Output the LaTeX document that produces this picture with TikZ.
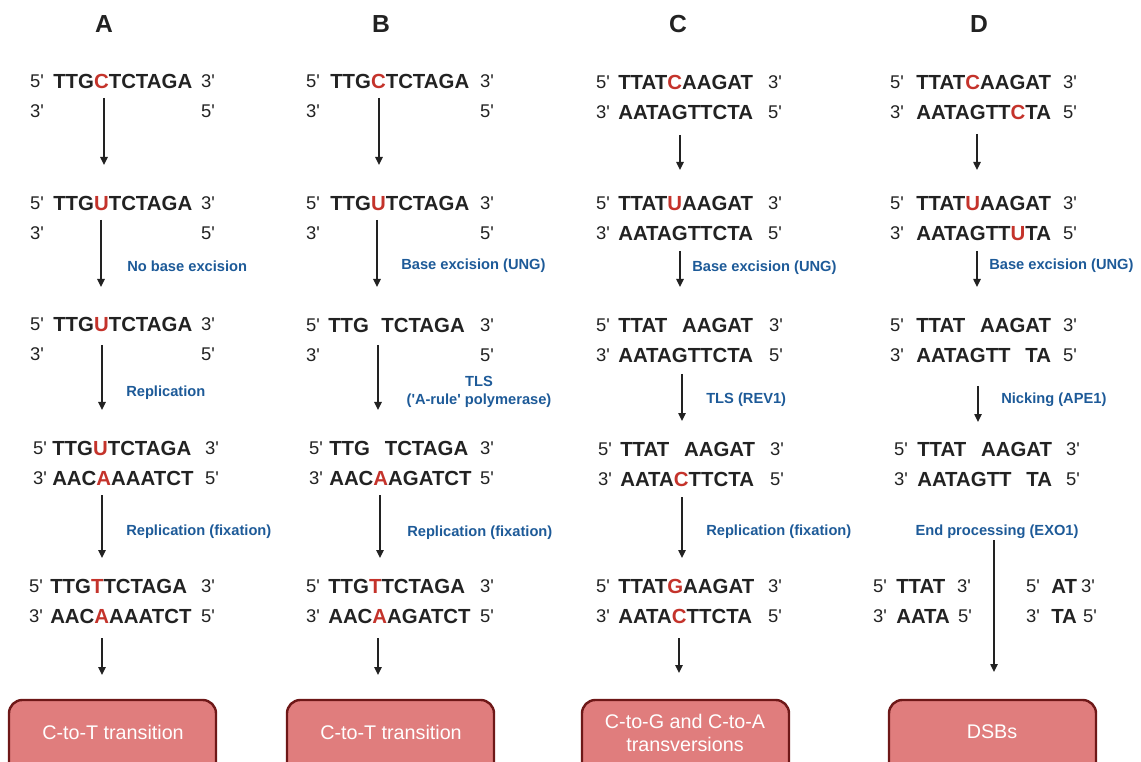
\documentclass[tikz,border=0pt]{standalone}
\usepackage{fontspec}
\setmainfont{Liberation Sans}
\usetikzlibrary{arrows.meta}
\definecolor{basered}{HTML}{C4332B}
\definecolor{stepblue}{HTML}{1D5A98}
\definecolor{inkgray}{HTML}{222222}
\definecolor{boxfill}{HTML}{E07D7D}
\definecolor{boxedge}{HTML}{6E1818}
\newcommand\hl[1]{\textcolor{basered}{#1}}
\newcommand\gap{\phantom{U}}
\newcommand\pr{\textquotesingle}
% one strand: name, y, x of left end, left end, x of sequence, sequence, x of right end, right end
\newcommand\strand[8]{%
  \node[endlbl] (#1l) at (#3,#2) {#4};
  \node[seq] (#1s) at (#5,#2) {#6};
  \node[endlbl] (#1r) at (#7,#2) {#8};}
\begin{document}
\begin{tikzpicture}[x=0.75pt,y=-0.75pt,
  endlbl/.style={inner sep=0pt,text=inkgray,font=\fontsize{13.8}{16}\selectfont},
  seq/.style={inner sep=0pt,anchor=west,text=inkgray,font=\fontsize{15.3}{18}\selectfont\bfseries},
  head/.style={inner sep=0pt,text=inkgray,font=\fontsize{18.5}{21}\selectfont\bfseries},
  steplbl/.style={inner sep=0pt,anchor=base west,text=stepblue,font=\fontsize{11}{14}\selectfont\bfseries},
  flow/.style={draw=inkgray,line width=1.1pt,-{Triangle[length=6pt,width=5.5pt]}},
  outcome/.style={draw=boxedge,fill=boxfill,line width=1.8pt,rounded corners=10pt},
  outtext/.style={inner sep=0pt,text=white,align=center,font=\fontsize{14.8}{17}\selectfont}]
\useasboundingbox (0,0) rectangle (1141,762);
\clip (0,0) rectangle (1141,762);

% column headers
\node[head] (hA) at (104,24) {A};
\node[head] (hB) at (381,24) {B};
\node[head] (hC) at (678,24) {C};
\node[head] (hD) at (979,24) {D};

% ---------------- column A ----------------
\strand{a1t}{81}{37}{5\pr}{53}{TTG\hl{C}TCTAGA}{208}{3\pr}
\node[endlbl] (a1bl) at (37,111) {3\pr};
\node[endlbl] (a1br) at (208,111) {5\pr};
\strand{a2t}{203}{37}{5\pr}{53}{TTG\hl{U}TCTAGA}{208}{3\pr}
\node[endlbl] (a2bl) at (37,233) {3\pr};
\node[endlbl] (a2br) at (208,233) {5\pr};
\strand{a3t}{324}{37}{5\pr}{53}{TTG\hl{U}TCTAGA}{208}{3\pr}
\node[endlbl] (a3bl) at (37,354) {3\pr};
\node[endlbl] (a3br) at (208,354) {5\pr};
\strand{a4t}{448}{40}{5\pr}{52}{TTG\hl{U}TCTAGA}{212}{3\pr}
\strand{a4b}{478}{40}{3\pr}{52}{AAC\hl{A}AAATCT}{212}{5\pr}
\strand{a5t}{586}{36}{5\pr}{50}{TTG\hl{T}TCTAGA}{208}{3\pr}
\strand{a5b}{616}{36}{3\pr}{50}{AAC\hl{A}AAATCT}{208}{5\pr}

\coordinate (a1o) at (104,98);  \coordinate (a2i) at (104,165);
\coordinate (a2o) at (101,220); \coordinate (a3i) at (101,287);
\coordinate (a3o) at (102,345); \coordinate (a4i) at (102,410);
\coordinate (a4o) at (102,495); \coordinate (a5i) at (102,558);
\coordinate (a5o) at (102,638); \coordinate (aEi) at (102,675);
\draw[flow] (a1o) -- (a2i);
\draw[flow] (a2o) -- (a3i);
\draw[flow] (a3o) -- (a4i);
\draw[flow] (a4o) -- (a5i);
\draw[flow] (a5o) -- (aEi);
\node[steplbl] (aL2) at (127,272) {No base excision};
\node[steplbl] (aL3) at (126,397) {Replication};
\node[steplbl] (aL4) at (126,535) {Replication (fixation)};

\draw[outcome] (9,700) rectangle (216,800);
\node[outtext] (aOut) at (113,732) {C-to-T transition};

% ---------------- column B ----------------
\strand{b1t}{81}{313}{5\pr}{330}{TTG\hl{C}TCTAGA}{487}{3\pr}
\node[endlbl] (b1bl) at (313,111) {3\pr};
\node[endlbl] (b1br) at (487,111) {5\pr};
\strand{b2t}{203}{313}{5\pr}{330}{TTG\hl{U}TCTAGA}{487}{3\pr}
\node[endlbl] (b2bl) at (313,233) {3\pr};
\node[endlbl] (b2br) at (487,233) {5\pr};
\strand{b3t}{325}{313}{5\pr}{328}{TTG\hspace{0.6em}TCTAGA}{487}{3\pr}
\node[endlbl] (b3bl) at (313,355) {3\pr};
\node[endlbl] (b3br) at (487,355) {5\pr};
\strand{b4t}{448}{316}{5\pr}{329}{TTG\gap TCTAGA}{487}{3\pr}
\strand{b4b}{478}{316}{3\pr}{329}{AAC\hl{A}AGATCT}{487}{5\pr}
\strand{b5t}{586}{313}{5\pr}{328}{TTG\hl{T}TCTAGA}{487}{3\pr}
\strand{b5b}{616}{313}{3\pr}{328}{AAC\hl{A}AGATCT}{487}{5\pr}

\coordinate (b1o) at (379,98);  \coordinate (b2i) at (379,165);
\coordinate (b2o) at (377,220); \coordinate (b3i) at (377,287);
\coordinate (b3o) at (378,345); \coordinate (b4i) at (378,410);
\coordinate (b4o) at (380,495); \coordinate (b5i) at (380,558);
\coordinate (b5o) at (378,638); \coordinate (bEi) at (378,675);
\draw[flow] (b1o) -- (b2i);
\draw[flow] (b2o) -- (b3i);
\draw[flow] (b3o) -- (b4i);
\draw[flow] (b4o) -- (b5i);
\draw[flow] (b5o) -- (bEi);
\node[steplbl] (bL2) at (401,270) {Base excision (UNG)};
\node[steplbl,anchor=center,align=center] (bL3) at (479,392) {TLS\\(\pr A-rule\pr{} polymerase)};
\node[steplbl] (bL4) at (407,536) {Replication (fixation)};

\draw[outcome] (287,700) rectangle (494,800);
\node[outtext] (bOut) at (391,732) {C-to-T transition};

% ---------------- column C ----------------
\strand{c1t}{82}{603}{5\pr}{618}{TTAT\hl{C}AAGAT}{775}{3\pr}
\strand{c1b}{112}{603}{3\pr}{618}{AATAGTTCTA}{775}{5\pr}
\strand{c2t}{203}{603}{5\pr}{618}{TTAT\hl{U}AAGAT}{775}{3\pr}
\strand{c2b}{233}{603}{3\pr}{618}{AATAGTTCTA}{775}{5\pr}
\strand{c3t}{325}{603}{5\pr}{618}{TTAT\gap AAGAT}{776}{3\pr}
\strand{c3b}{355}{603}{3\pr}{618}{AATAGTTCTA}{776}{5\pr}
\strand{c4t}{449}{605}{5\pr}{620}{TTAT\gap AAGAT}{777}{3\pr}
\strand{c4b}{479}{605}{3\pr}{620}{AATA\hl{C}TTCTA}{777}{5\pr}
\strand{c5t}{586}{603}{5\pr}{618}{TTAT\hl{G}AAGAT}{775}{3\pr}
\strand{c5b}{616}{603}{3\pr}{618}{AATA\hl{C}TTCTA}{775}{5\pr}

\coordinate (c1o) at (680,135); \coordinate (c2i) at (680,170);
\coordinate (c2o) at (680,251); \coordinate (c3i) at (680,287);
\coordinate (c3o) at (682,374); \coordinate (c4i) at (682,421);
\coordinate (c4o) at (682,497); \coordinate (c5i) at (682,558);
\coordinate (c5o) at (679,638); \coordinate (cEi) at (679,673);
\draw[flow] (c1o) -- (c2i);
\draw[flow] (c2o) -- (c3i);
\draw[flow] (c3o) -- (c4i);
\draw[flow] (c4o) -- (c5i);
\draw[flow] (c5o) -- (cEi);
\node[steplbl] (cL2) at (692,272) {Base excision (UNG)};
\node[steplbl] (cL3) at (706,403) {TLS (REV1)};
\node[steplbl] (cL4) at (706,535) {Replication (fixation)};

\draw[outcome] (582,700) rectangle (789,800);
\node[outtext] (cOut) at (685,733) {C-to-G and C-to-A\\transversions};

% ---------------- column D ----------------
\strand{d1t}{82}{897}{5\pr}{916}{TTAT\hl{C}AAGAT}{1070}{3\pr}
\strand{d1b}{112}{897}{3\pr}{916}{AATAGTT\hl{C}TA}{1070}{5\pr}
\strand{d2t}{203}{897}{5\pr}{916}{TTAT\hl{U}AAGAT}{1070}{3\pr}
\strand{d2b}{233}{897}{3\pr}{916}{AATAGTT\hl{U}TA}{1070}{5\pr}
\strand{d3t}{325}{897}{5\pr}{916}{TTAT\gap AAGAT}{1070}{3\pr}
\strand{d3b}{355}{897}{3\pr}{916}{AATAGTT\gap TA}{1070}{5\pr}
\strand{d4t}{449}{901}{5\pr}{917}{TTAT\gap AAGAT}{1073}{3\pr}
\strand{d4b}{479}{901}{3\pr}{917}{AATAGTT\gap TA}{1073}{5\pr}
\strand{d5l}{586}{880}{5\pr}{896}{TTAT}{964}{3\pr}
\strand{d5m}{616}{880}{3\pr}{896}{AATA}{965}{5\pr}
\strand{d5r}{586}{1033}{5\pr}{1051}{AT}{1088}{3\pr}
\strand{d5s}{616}{1033}{3\pr}{1051}{TA}{1090}{5\pr}

\coordinate (d1o) at (977,134); \coordinate (d2i) at (977,170);
\coordinate (d2o) at (977,251); \coordinate (d3i) at (977,287);
\coordinate (d3o) at (978,386); \coordinate (d4i) at (978,422);
\coordinate (d4o) at (994,540); \coordinate (dEi) at (994,672);
\draw[flow] (d1o) -- (d2i);
\draw[flow] (d2o) -- (d3i);
\draw[flow] (d3o) -- (d4i);
\draw[flow] (d4o) -- (dEi);
\node[steplbl] (dL2) at (989,270) {Base excision (UNG)};
\node[steplbl] (dL3) at (1001,403) {Nicking (APE1)};
\node[steplbl,anchor=base] (dL4) at (997,535) {End processing (EXO1)};

\draw[outcome] (889,700) rectangle (1096,800);
\node[outtext] (dOut) at (992,732) {DSBs};
\end{tikzpicture}
\end{document}
